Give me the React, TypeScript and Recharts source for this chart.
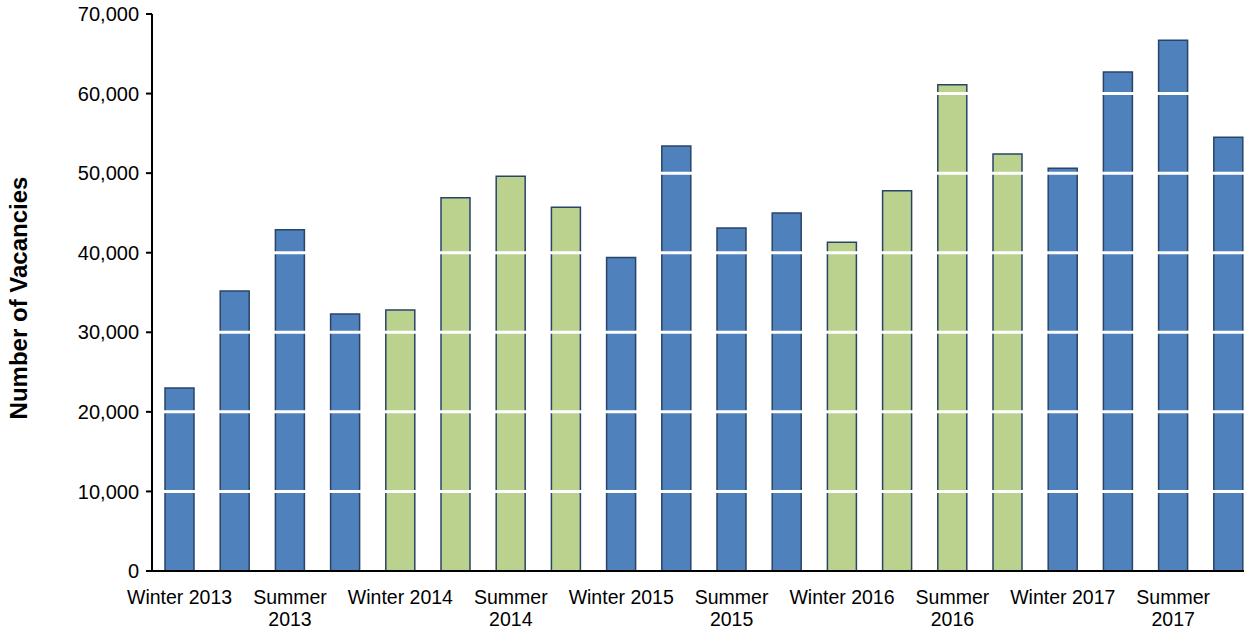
import { BarChart, Bar, XAxis, YAxis, Cell, ReferenceLine } from "recharts";

const periods = [
  "Winter 2013", "Spring 2013", "Summer 2013", "Autumn 2013",
  "Winter 2014", "Spring 2014", "Summer 2014", "Autumn 2014",
  "Winter 2015", "Spring 2015", "Summer 2015", "Autumn 2015",
  "Winter 2016", "Spring 2016", "Summer 2016", "Autumn 2016",
  "Winter 2017", "Spring 2017", "Summer 2017", "Autumn 2017",
];

const vacancies = [
  23000, 35200, 42900, 32300,
  32800, 46900, 49600, 45700,
  39400, 53400, 43100, 45000,
  41300, 47800, 61100, 52400,
  50600, 62700, 66700, 54500,
];

const highlightYears = ["2014", "2016"];

const yTicks = [0, 10000, 20000, 30000, 40000, 50000, 60000, 70000];

const data = periods.map((period, i) => ({ period, value: vacancies[i] }));

const FONT = "'Liberation Sans', Arial, sans-serif";

const XTick = (props: any) => {
  const { x, y, payload } = props;
  const label: string = payload.value;
  const lines = label.startsWith("Summer") ? label.split(" ") : [label];
  return (
    <text x={x} y={y} textAnchor="middle" fontFamily={FONT} fontSize={19.5} fill="#000">
      {lines.map((line, i) => (
        <tspan key={i} x={x} dy={i === 0 ? 24.5 : 22}>
          {line}
        </tspan>
      ))}
    </text>
  );
};

const YLabel = () => (
  <text
    x={18}
    y={298}
    transform="rotate(-90 18 298)"
    textAnchor="middle"
    dominantBaseline="central"
    fontFamily={FONT}
    fontSize={24}
    fontWeight="bold"
    fill="#000"
  >
    Number of Vacancies
  </text>
);

export default function App() {
  return (
    <div style={{ position: "fixed", top: 0, left: 0, width: 1244, height: 630, overflow: "hidden", background: "#fff" }}>
      <BarChart
        width={1262}
        height={630}
        data={data}
        margin={{ top: 14, right: 6, left: 0, bottom: 0 }}
        barSize={29}
      >
        <XAxis
          dataKey="period"
          interval={1}
          tick={<XTick />}
          tickLine={false}
          axisLine={{ stroke: "#000", strokeWidth: 2 }}
          height={59}
        />
        <YAxis
          domain={[0, 70000]}
          ticks={yTicks}
          width={152}
          tickFormatter={(v: number) => v.toLocaleString("en-US")}
          tick={{ fontFamily: FONT, fontSize: 20, fill: "#000", dx: -5 }}
          tickLine={{ stroke: "#000", strokeWidth: 2 }}
          tickSize={6}
          axisLine={{ stroke: "#000", strokeWidth: 2 }}
          label={<YLabel />}
        />
        <Bar dataKey="value" stroke="#2A4468" strokeWidth={1.5} isAnimationActive={false}>
          {data.map((d, i) => (
            <Cell
              key={i}
              fill={highlightYears.some((yr) => d.period.endsWith(yr)) ? "#BBD18E" : "#4F81BD"}
            />
          ))}
        </Bar>
        {yTicks.slice(1, 7).map((t) => (
          <ReferenceLine key={t} y={t} stroke="#fff" strokeWidth={3} />
        ))}
      </BarChart>
    </div>
  );
}
